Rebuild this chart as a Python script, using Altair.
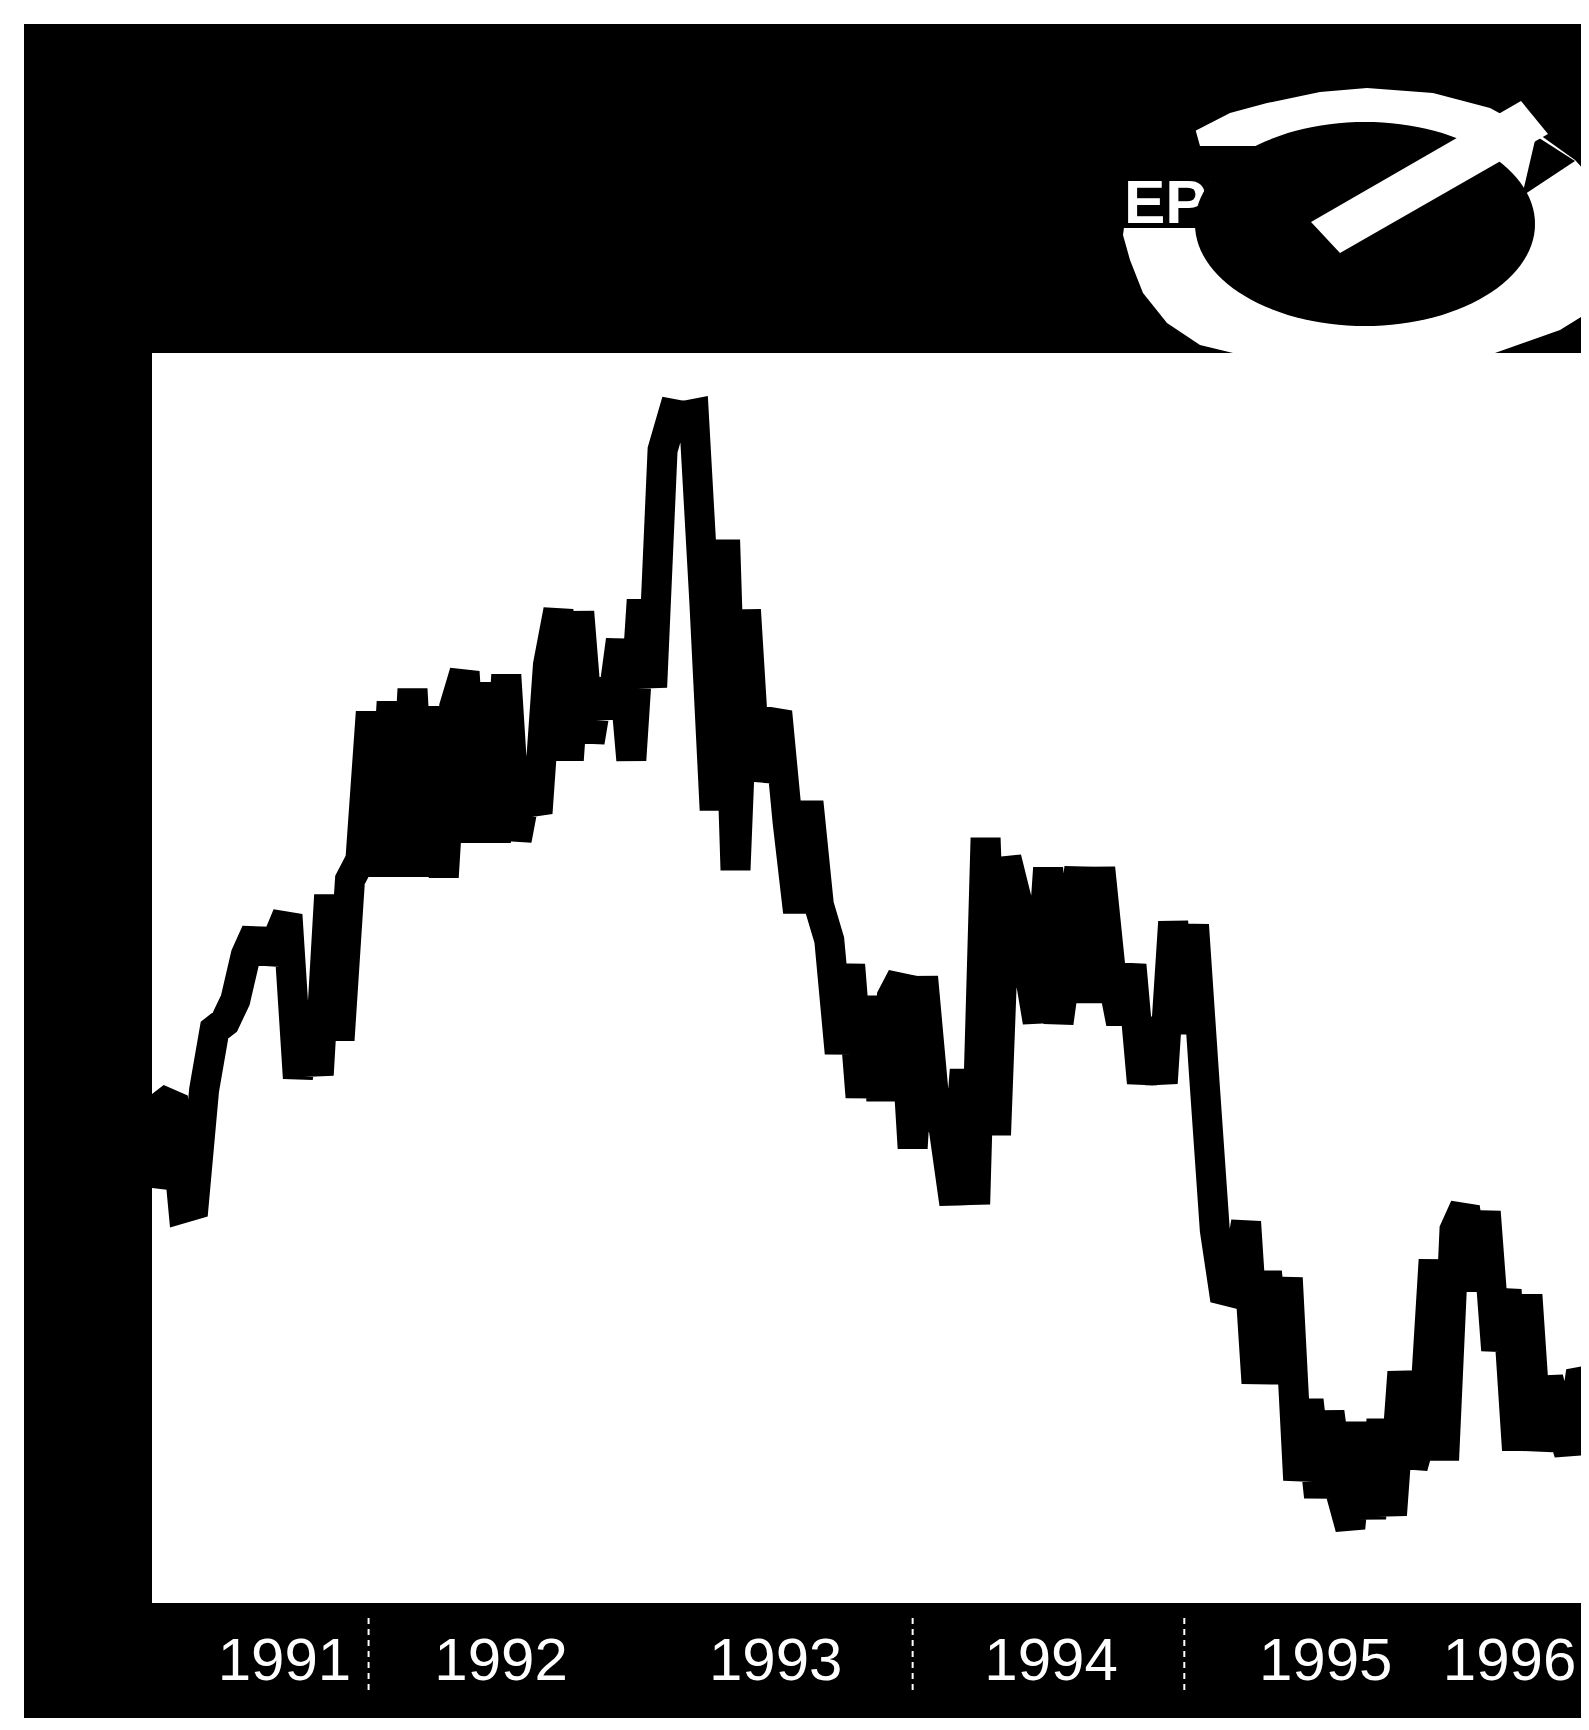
import altair as alt
import numpy as np
import pandas as pd

# ---------------- data ----------------
# fortnightly index values (unitless, 0 = bottom edge of the panel)
price = [41.5, 49.8, 50.6, 39.5, 39.8, 51.3, 57.3, 58.1, 60.3, 64.8,
         67.1, 64.3, 66.3, 68.8, 52.5, 60.1, 52.8, 70.8, 56.3, 72.3,
         74.3, 89.1, 72.7, 90.1, 72.7, 91.4, 72.7, 89.6, 72.6, 89.6,
         93.1, 76.1, 92.0, 76.1, 92.8, 76.3, 81.8, 79.0, 93.8, 99.3,
         84.3, 99.1, 86.1, 92.3, 88.6, 96.3, 84.3, 100.3, 91.6, 115.3,
         118.9, 118.7, 118.9, 100.3, 79.3, 106.3, 73.3, 99.3, 82.3, 86.8,
         89.1, 78.1, 69.1, 80.1, 69.8, 66.3, 55.0, 63.8, 50.6, 60.6,
         50.3, 60.6, 62.6, 45.5, 62.6, 51.1, 47.3, 39.9, 53.3, 39.9,
         76.5, 46.8, 74.5, 70.3, 64.3, 58.1, 73.5, 58.0, 65.6, 73.5,
         60.1, 73.5, 63.3, 58.0, 63.8, 52.0, 58.4, 52.0, 68.1, 57.0,
         67.8, 52.3, 37.3, 30.3, 31.7, 38.1, 22.0, 33.1, 22.0, 32.5,
         12.3, 20.3, 10.6, 19.1, 11.3, 7.5, 18.0, 8.5, 18.3, 8.8,
         23.1, 13.6, 17.3, 34.3, 14.3, 37.3, 39.6, 31.3, 39.1, 25.3,
         31.3, 15.3, 30.8, 15.3, 22.5, 18.3, 15.0, 22.1, 22.3]
dates = pd.date_range("1991-03-16", periods=len(price), freq="14D")

year_labels = ["1991", "1992", "1993", "1994", "1995", "1996"]
label_dates = pd.to_datetime(["1991-09-10", "1992-06-27", "1993-07-01",
                              "1994-07-06", "1995-07-10", "1996-03-13"])
grid_dates = pd.to_datetime(["1992-01-01", "1994-01-01", "1995-01-01"])

df = pd.DataFrame({"date": dates, "price": price})
labels_df = pd.DataFrame({"pos": label_dates, "label": year_labels})
grid_df = pd.DataFrame({"year_start": grid_dates})
one_row = pd.DataFrame({"k": [0]})

# ---------------- layout ----------------
LEFT_W, PLOT_W = 128, 1429
HEAD_H, PLOT_H, BAND_H = 329, 1250, 115
FONT = "Liberation Sans"

xscale = alt.Scale(domain=[alt.DateTime(year=1991, month=3, date=16),
                           alt.DateTime(year=1996, month=6, date=17)])

# ---------------- logo in header ----------------
OX, OY = 24, 24


def path_from(points):
    return "M" + " L".join(f"{x - OX:.1f},{y - OY:.1f}" for x, y in points) + " Z"


def shape_layer(points, color):
    return alt.Chart(one_row).mark_point(
        shape=path_from(points), size=4, filled=True, color=color,
        opacity=1, strokeWidth=0, clip=True
    ).encode(x=alt.value(0), y=alt.value(0))


outer = [(1123, 235), (1127, 205), (1140, 180), (1160, 157), (1193, 132), (1230, 113),
         (1267, 103), (1320, 92), (1367, 88), (1433, 93), (1490, 108), (1540, 135),
         (1575, 160), (1589, 175), (1589, 312), (1560, 330), (1495, 353), (1233, 353),
         (1200, 345), (1167, 323), (1143, 293), (1130, 260)]
t = np.linspace(0, 2 * np.pi, 120, endpoint=False)
inner = [(1365 + 170 * np.cos(a), 224 + 102 * np.sin(a)) for a in t]
textbox = [(1105, 128), (1195, 128), (1200, 146), (1262, 146), (1262, 228), (1105, 228)]
gap = [(1536, 136), (1522, 196), (1575, 161)]
bar = [(1311, 222), (1340, 253), (1548, 134), (1521, 101)]

logo_text = alt.Chart(one_row).mark_text(
    text="EPRI", font=FONT, fontSize=62, fontWeight="bold", color="white",
    align="left", baseline="alphabetic", clip=True
).encode(x=alt.value(1124 - OX), y=alt.value(223 - OY))

header = alt.layer(
    shape_layer(outer, "white"),
    shape_layer(textbox, "black"),
    logo_text,
    shape_layer(inner, "black"),
    shape_layer(gap, "black"),
    shape_layer(bar, "white"),
).properties(width=LEFT_W + PLOT_W, height=HEAD_H,
             view=alt.ViewBackground(fill="black", strokeWidth=0))

# ---------------- left black strip ----------------
left = alt.Chart(one_row).mark_point(opacity=0, size=1, clip=True).encode(
    x=alt.value(10), y=alt.value(10)
).properties(width=LEFT_W, height=PLOT_H + BAND_H,
             view=alt.ViewBackground(fill="black", strokeWidth=0))

# ---------------- main plot ----------------
plot = alt.Chart(df).mark_line(
    color="black", strokeWidth=30, strokeJoin="miter", strokeMiterLimit=2, clip=True
).encode(
    x=alt.X("date:T", scale=xscale, axis=None),
    y=alt.Y("price:Q", scale=alt.Scale(domain=[0, 125], nice=False, zero=False), axis=None),
).properties(width=PLOT_W, height=PLOT_H,
             view=alt.ViewBackground(fill="white", strokeWidth=0))

# ---------------- bottom band with year labels ----------------
band_rules = alt.Chart(grid_df).mark_rule(
    color="white", strokeWidth=2, strokeDash=[6, 5], clip=True
).encode(x=alt.X("year_start:T", scale=xscale, axis=None),
         y=alt.value(15), y2=alt.value(92))

band_text = alt.Chart(labels_df).mark_text(
    color="white", font=FONT, fontSize=60, align="center", baseline="alphabetic",
    clip=True
).encode(x=alt.X("pos:T", scale=xscale, axis=None), y=alt.value(77), text="label:N")

band = alt.layer(band_rules, band_text).properties(
    width=PLOT_W, height=BAND_H, view=alt.ViewBackground(fill="black", strokeWidth=0))

right = alt.vconcat(plot, band, spacing=0, bounds="flush")
middle = alt.hconcat(left, right, spacing=0, bounds="flush")

chart = alt.vconcat(header, middle, spacing=0, bounds="flush").properties(
    padding={"left": 16, "top": 16, "right": 0, "bottom": 0},
    background="white",
).configure_view(strokeWidth=0)

chart.save("out.html", embed_options={"renderer": "svg", "actions": False})
